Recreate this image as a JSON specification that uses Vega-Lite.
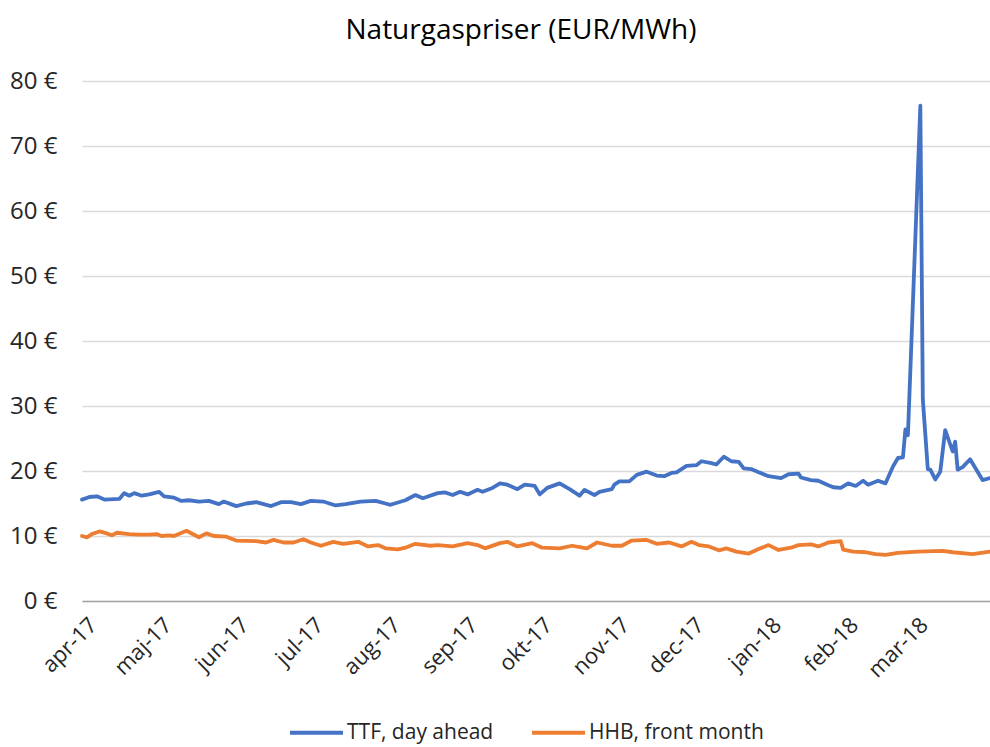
{
  "$schema": "https://vega.github.io/schema/vega-lite/v6.json",
  "width": 908,
  "height": 520,
  "autosize": {"type": "none"},
  "padding": {"left": 82, "top": 81, "right": 0, "bottom": 146},
  "background": "white",
  "config": {"font": "Open Sans", "view": {"stroke": null}},
  "title": {"text": "Naturgaspriser (EUR/MWh)", "fontSize": 28, "fontWeight": "normal", "color": "#000000", "anchor": "middle", "dx": -15, "offset": 24},
  "data": {"values": [
    {"d":"2017-04-01","s":"TTF, day ahead","v":15.6},
    {"d":"2017-04-04","s":"TTF, day ahead","v":16.0},
    {"d":"2017-04-07","s":"TTF, day ahead","v":16.1},
    {"d":"2017-04-10","s":"TTF, day ahead","v":15.6},
    {"d":"2017-04-16","s":"TTF, day ahead","v":15.7},
    {"d":"2017-04-18","s":"TTF, day ahead","v":16.6},
    {"d":"2017-04-20","s":"TTF, day ahead","v":16.2},
    {"d":"2017-04-22","s":"TTF, day ahead","v":16.6},
    {"d":"2017-04-25","s":"TTF, day ahead","v":16.2},
    {"d":"2017-04-28","s":"TTF, day ahead","v":16.4},
    {"d":"2017-05-02","s":"TTF, day ahead","v":16.8},
    {"d":"2017-05-04","s":"TTF, day ahead","v":16.1},
    {"d":"2017-05-08","s":"TTF, day ahead","v":15.9},
    {"d":"2017-05-11","s":"TTF, day ahead","v":15.4},
    {"d":"2017-05-14","s":"TTF, day ahead","v":15.5},
    {"d":"2017-05-18","s":"TTF, day ahead","v":15.3},
    {"d":"2017-05-22","s":"TTF, day ahead","v":15.4},
    {"d":"2017-05-26","s":"TTF, day ahead","v":14.9},
    {"d":"2017-05-28","s":"TTF, day ahead","v":15.3},
    {"d":"2017-06-02","s":"TTF, day ahead","v":14.6},
    {"d":"2017-06-06","s":"TTF, day ahead","v":15.0},
    {"d":"2017-06-10","s":"TTF, day ahead","v":15.2},
    {"d":"2017-06-16","s":"TTF, day ahead","v":14.6},
    {"d":"2017-06-20","s":"TTF, day ahead","v":15.2},
    {"d":"2017-06-24","s":"TTF, day ahead","v":15.2},
    {"d":"2017-06-28","s":"TTF, day ahead","v":14.9},
    {"d":"2017-07-02","s":"TTF, day ahead","v":15.4},
    {"d":"2017-07-07","s":"TTF, day ahead","v":15.3},
    {"d":"2017-07-12","s":"TTF, day ahead","v":14.7},
    {"d":"2017-07-16","s":"TTF, day ahead","v":14.9},
    {"d":"2017-07-22","s":"TTF, day ahead","v":15.3},
    {"d":"2017-07-28","s":"TTF, day ahead","v":15.4},
    {"d":"2017-08-01","s":"TTF, day ahead","v":15.0},
    {"d":"2017-08-03","s":"TTF, day ahead","v":14.8},
    {"d":"2017-08-09","s":"TTF, day ahead","v":15.5},
    {"d":"2017-08-13","s":"TTF, day ahead","v":16.3},
    {"d":"2017-08-16","s":"TTF, day ahead","v":15.8},
    {"d":"2017-08-22","s":"TTF, day ahead","v":16.6},
    {"d":"2017-08-25","s":"TTF, day ahead","v":16.7},
    {"d":"2017-08-28","s":"TTF, day ahead","v":16.3},
    {"d":"2017-08-31","s":"TTF, day ahead","v":16.8},
    {"d":"2017-09-03","s":"TTF, day ahead","v":16.4},
    {"d":"2017-09-07","s":"TTF, day ahead","v":17.1},
    {"d":"2017-09-09","s":"TTF, day ahead","v":16.8},
    {"d":"2017-09-13","s":"TTF, day ahead","v":17.4},
    {"d":"2017-09-16","s":"TTF, day ahead","v":18.1},
    {"d":"2017-09-19","s":"TTF, day ahead","v":17.9},
    {"d":"2017-09-23","s":"TTF, day ahead","v":17.2},
    {"d":"2017-09-26","s":"TTF, day ahead","v":17.9},
    {"d":"2017-09-30","s":"TTF, day ahead","v":17.7},
    {"d":"2017-10-02","s":"TTF, day ahead","v":16.4},
    {"d":"2017-10-05","s":"TTF, day ahead","v":17.4},
    {"d":"2017-10-10","s":"TTF, day ahead","v":18.1},
    {"d":"2017-10-14","s":"TTF, day ahead","v":17.2},
    {"d":"2017-10-18","s":"TTF, day ahead","v":16.2},
    {"d":"2017-10-20","s":"TTF, day ahead","v":17.1},
    {"d":"2017-10-24","s":"TTF, day ahead","v":16.3},
    {"d":"2017-10-26","s":"TTF, day ahead","v":16.8},
    {"d":"2017-10-31","s":"TTF, day ahead","v":17.2},
    {"d":"2017-11-01","s":"TTF, day ahead","v":17.9},
    {"d":"2017-11-03","s":"TTF, day ahead","v":18.4},
    {"d":"2017-11-07","s":"TTF, day ahead","v":18.4},
    {"d":"2017-11-10","s":"TTF, day ahead","v":19.4},
    {"d":"2017-11-14","s":"TTF, day ahead","v":19.9},
    {"d":"2017-11-18","s":"TTF, day ahead","v":19.3},
    {"d":"2017-11-21","s":"TTF, day ahead","v":19.2},
    {"d":"2017-11-24","s":"TTF, day ahead","v":19.7},
    {"d":"2017-11-26","s":"TTF, day ahead","v":19.8},
    {"d":"2017-11-30","s":"TTF, day ahead","v":20.8},
    {"d":"2017-12-04","s":"TTF, day ahead","v":20.9},
    {"d":"2017-12-06","s":"TTF, day ahead","v":21.5},
    {"d":"2017-12-10","s":"TTF, day ahead","v":21.2},
    {"d":"2017-12-12","s":"TTF, day ahead","v":21.0},
    {"d":"2017-12-15","s":"TTF, day ahead","v":22.2},
    {"d":"2017-12-18","s":"TTF, day ahead","v":21.5},
    {"d":"2017-12-21","s":"TTF, day ahead","v":21.4},
    {"d":"2017-12-23","s":"TTF, day ahead","v":20.4},
    {"d":"2017-12-26","s":"TTF, day ahead","v":20.3},
    {"d":"2017-12-29","s":"TTF, day ahead","v":19.8},
    {"d":"2018-01-02","s":"TTF, day ahead","v":19.2},
    {"d":"2018-01-07","s":"TTF, day ahead","v":18.9},
    {"d":"2018-01-10","s":"TTF, day ahead","v":19.5},
    {"d":"2018-01-14","s":"TTF, day ahead","v":19.6},
    {"d":"2018-01-15","s":"TTF, day ahead","v":19.0},
    {"d":"2018-01-19","s":"TTF, day ahead","v":18.6},
    {"d":"2018-01-22","s":"TTF, day ahead","v":18.5},
    {"d":"2018-01-26","s":"TTF, day ahead","v":17.8},
    {"d":"2018-01-28","s":"TTF, day ahead","v":17.5},
    {"d":"2018-01-31","s":"TTF, day ahead","v":17.4},
    {"d":"2018-02-03","s":"TTF, day ahead","v":18.1},
    {"d":"2018-02-06","s":"TTF, day ahead","v":17.7},
    {"d":"2018-02-09","s":"TTF, day ahead","v":18.5},
    {"d":"2018-02-11","s":"TTF, day ahead","v":17.9},
    {"d":"2018-02-15","s":"TTF, day ahead","v":18.5},
    {"d":"2018-02-18","s":"TTF, day ahead","v":18.1},
    {"d":"2018-02-21","s":"TTF, day ahead","v":20.7},
    {"d":"2018-02-23","s":"TTF, day ahead","v":22.0},
    {"d":"2018-02-25","s":"TTF, day ahead","v":22.1},
    {"d":"2018-02-26","s":"TTF, day ahead","v":26.4},
    {"d":"2018-02-27","s":"TTF, day ahead","v":25.5},
    {"d":"2018-03-04","s":"TTF, day ahead","v":76.2},
    {"d":"2018-03-05","s":"TTF, day ahead","v":31.0},
    {"d":"2018-03-07","s":"TTF, day ahead","v":20.3},
    {"d":"2018-03-08","s":"TTF, day ahead","v":20.2},
    {"d":"2018-03-10","s":"TTF, day ahead","v":18.7},
    {"d":"2018-03-12","s":"TTF, day ahead","v":19.9},
    {"d":"2018-03-14","s":"TTF, day ahead","v":26.3},
    {"d":"2018-03-17","s":"TTF, day ahead","v":23.0},
    {"d":"2018-03-18","s":"TTF, day ahead","v":24.5},
    {"d":"2018-03-19","s":"TTF, day ahead","v":20.2},
    {"d":"2018-03-21","s":"TTF, day ahead","v":20.6},
    {"d":"2018-03-24","s":"TTF, day ahead","v":21.8},
    {"d":"2018-03-29","s":"TTF, day ahead","v":18.6},
    {"d":"2018-04-01","s":"TTF, day ahead","v":18.9},
    {"d":"2017-04-01","s":"HHB, front month","v":10.0},
    {"d":"2017-04-03","s":"HHB, front month","v":9.8},
    {"d":"2017-04-05","s":"HHB, front month","v":10.3},
    {"d":"2017-04-08","s":"HHB, front month","v":10.7},
    {"d":"2017-04-11","s":"HHB, front month","v":10.4},
    {"d":"2017-04-13","s":"HHB, front month","v":10.1},
    {"d":"2017-04-15","s":"HHB, front month","v":10.5},
    {"d":"2017-04-20","s":"HHB, front month","v":10.3},
    {"d":"2017-04-24","s":"HHB, front month","v":10.2},
    {"d":"2017-04-28","s":"HHB, front month","v":10.2},
    {"d":"2017-05-01","s":"HHB, front month","v":10.3},
    {"d":"2017-05-03","s":"HHB, front month","v":10.0},
    {"d":"2017-05-06","s":"HHB, front month","v":10.1},
    {"d":"2017-05-08","s":"HHB, front month","v":10.0},
    {"d":"2017-05-13","s":"HHB, front month","v":10.8},
    {"d":"2017-05-18","s":"HHB, front month","v":9.8},
    {"d":"2017-05-21","s":"HHB, front month","v":10.4},
    {"d":"2017-05-24","s":"HHB, front month","v":10.0},
    {"d":"2017-05-29","s":"HHB, front month","v":9.9},
    {"d":"2017-06-02","s":"HHB, front month","v":9.3},
    {"d":"2017-06-10","s":"HHB, front month","v":9.2},
    {"d":"2017-06-14","s":"HHB, front month","v":9.0},
    {"d":"2017-06-17","s":"HHB, front month","v":9.4},
    {"d":"2017-06-21","s":"HHB, front month","v":9.0},
    {"d":"2017-06-25","s":"HHB, front month","v":9.0},
    {"d":"2017-06-29","s":"HHB, front month","v":9.5},
    {"d":"2017-07-02","s":"HHB, front month","v":9.0},
    {"d":"2017-07-06","s":"HHB, front month","v":8.5},
    {"d":"2017-07-11","s":"HHB, front month","v":9.1},
    {"d":"2017-07-15","s":"HHB, front month","v":8.8},
    {"d":"2017-07-21","s":"HHB, front month","v":9.1},
    {"d":"2017-07-25","s":"HHB, front month","v":8.4},
    {"d":"2017-07-29","s":"HHB, front month","v":8.6},
    {"d":"2017-08-01","s":"HHB, front month","v":8.1},
    {"d":"2017-08-06","s":"HHB, front month","v":7.95},
    {"d":"2017-08-09","s":"HHB, front month","v":8.2},
    {"d":"2017-08-13","s":"HHB, front month","v":8.8},
    {"d":"2017-08-19","s":"HHB, front month","v":8.5},
    {"d":"2017-08-22","s":"HHB, front month","v":8.6},
    {"d":"2017-08-28","s":"HHB, front month","v":8.4},
    {"d":"2017-09-03","s":"HHB, front month","v":8.9},
    {"d":"2017-09-07","s":"HHB, front month","v":8.6},
    {"d":"2017-09-10","s":"HHB, front month","v":8.1},
    {"d":"2017-09-16","s":"HHB, front month","v":8.9},
    {"d":"2017-09-19","s":"HHB, front month","v":9.1},
    {"d":"2017-09-23","s":"HHB, front month","v":8.4},
    {"d":"2017-09-29","s":"HHB, front month","v":8.9},
    {"d":"2017-10-03","s":"HHB, front month","v":8.2},
    {"d":"2017-10-10","s":"HHB, front month","v":8.1},
    {"d":"2017-10-15","s":"HHB, front month","v":8.5},
    {"d":"2017-10-21","s":"HHB, front month","v":8.1},
    {"d":"2017-10-25","s":"HHB, front month","v":9.0},
    {"d":"2017-10-31","s":"HHB, front month","v":8.5},
    {"d":"2017-11-04","s":"HHB, front month","v":8.5},
    {"d":"2017-11-08","s":"HHB, front month","v":9.3},
    {"d":"2017-11-14","s":"HHB, front month","v":9.4},
    {"d":"2017-11-18","s":"HHB, front month","v":8.8},
    {"d":"2017-11-23","s":"HHB, front month","v":9.0},
    {"d":"2017-11-28","s":"HHB, front month","v":8.4},
    {"d":"2017-12-02","s":"HHB, front month","v":9.1},
    {"d":"2017-12-05","s":"HHB, front month","v":8.6},
    {"d":"2017-12-09","s":"HHB, front month","v":8.4},
    {"d":"2017-12-13","s":"HHB, front month","v":7.8},
    {"d":"2017-12-16","s":"HHB, front month","v":8.1},
    {"d":"2017-12-20","s":"HHB, front month","v":7.6},
    {"d":"2017-12-25","s":"HHB, front month","v":7.3},
    {"d":"2017-12-29","s":"HHB, front month","v":8.0},
    {"d":"2018-01-02","s":"HHB, front month","v":8.6},
    {"d":"2018-01-06","s":"HHB, front month","v":7.85},
    {"d":"2018-01-11","s":"HHB, front month","v":8.2},
    {"d":"2018-01-14","s":"HHB, front month","v":8.6},
    {"d":"2018-01-19","s":"HHB, front month","v":8.7},
    {"d":"2018-01-22","s":"HHB, front month","v":8.4},
    {"d":"2018-01-26","s":"HHB, front month","v":9.0},
    {"d":"2018-01-31","s":"HHB, front month","v":9.2},
    {"d":"2018-02-01","s":"HHB, front month","v":7.9},
    {"d":"2018-02-05","s":"HHB, front month","v":7.6},
    {"d":"2018-02-10","s":"HHB, front month","v":7.5},
    {"d":"2018-02-14","s":"HHB, front month","v":7.2},
    {"d":"2018-02-18","s":"HHB, front month","v":7.1},
    {"d":"2018-02-23","s":"HHB, front month","v":7.4},
    {"d":"2018-03-03","s":"HHB, front month","v":7.6},
    {"d":"2018-03-13","s":"HHB, front month","v":7.7},
    {"d":"2018-03-17","s":"HHB, front month","v":7.5},
    {"d":"2018-03-25","s":"HHB, front month","v":7.2},
    {"d":"2018-04-01","s":"HHB, front month","v":7.6}
  ]},
  "mark": {"type": "line", "strokeWidth": 3.8, "strokeJoin": "round", "strokeCap": "round"},
  "encoding": {
    "x": {
      "field": "d", "type": "temporal",
      "scale": {"type": "utc", "domain": [{"year": 2017, "month": 4, "date": 1, "utc": true}, {"year": 2018, "month": 4, "date": 1, "utc": true}]},
      "axis": {
        "values": [
          {"year": 2017, "month": 4, "date": 1, "utc": true},
          {"year": 2017, "month": 5, "date": 1, "utc": true},
          {"year": 2017, "month": 6, "date": 1, "utc": true},
          {"year": 2017, "month": 7, "date": 1, "utc": true},
          {"year": 2017, "month": 8, "date": 1, "utc": true},
          {"year": 2017, "month": 9, "date": 1, "utc": true},
          {"year": 2017, "month": 10, "date": 1, "utc": true},
          {"year": 2017, "month": 11, "date": 1, "utc": true},
          {"year": 2017, "month": 12, "date": 1, "utc": true},
          {"year": 2018, "month": 1, "date": 1, "utc": true},
          {"year": 2018, "month": 2, "date": 1, "utc": true},
          {"year": 2018, "month": 3, "date": 1, "utc": true}
        ],
        "labelExpr": "['jan','feb','mar','apr','maj','jun','jul','aug','sep','okt','nov','dec'][utcmonth(datum.value)] + '-' + utcFormat(datum.value, '%y')",
        "labelAngle": -45,
        "labelFontSize": 22,
        "labelColor": "#262626",
        "labelPadding": 13,
        "labelOffset": 4,
        "labelOverlap": false,
        "labelFlush": false,
        "labelBound": false,
        "ticks": false,
        "grid": false,
        "domainColor": "#A6A6A6",
        "domainWidth": 1.5,
        "title": null
      }
    },
    "y": {
      "field": "v", "type": "quantitative",
      "scale": {"domain": [0, 80]},
      "axis": {
        "values": [0, 10, 20, 30, 40, 50, 60, 70, 80],
        "labelExpr": "datum.value + ' €'",
        "labelFontSize": 24,
        "labelColor": "#262626",
        "labelPadding": 25,
        "ticks": false,
        "domain": false,
        "gridColor": "#D9D9D9",
        "gridWidth": 1.3,
        "title": null
      }
    },
    "color": {
      "field": "s", "type": "nominal",
      "scale": {"domain": ["TTF, day ahead", "HHB, front month"], "range": ["#4472C4", "#ED7D31"]},
      "legend": {
        "orient": "none", "legendX": 206, "legendY": 623, "direction": "horizontal",
        "title": null, "symbolType": "stroke", "symbolSize": 2809, "symbolStrokeWidth": 4,
        "labelFontSize": 21, "labelColor": "#262626", "labelOffset": 2, "columnPadding": 30, "labelLimit": 400
      }
    }
  }
}
